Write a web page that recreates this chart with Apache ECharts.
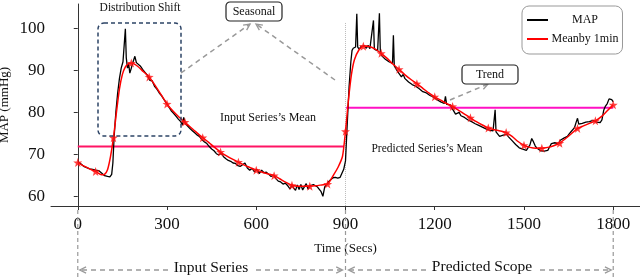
<!DOCTYPE html>
<html><head><meta charset="utf-8">
<script src="https://cdn.jsdelivr.net/npm/echarts@6/dist/echarts.min.js"></script>
<style>html,body{margin:0;padding:0;background:#fff}#c{width:640px;height:280px}</style>
</head><body><div id="c"></div>
<script>
// ---- data ----
const xTicks = [0, 300, 600, 900, 1200, 1500, 1800];
const yTicks = [60, 70, 80, 90, 100];

const blackT = [0,10,20,30,40,50,60,70,80,90,100,108,114,118,122,128,134,140,146,152,157,160,163,167,171,175,180,186,192,197,203,210,218,226,234,242,250,258,266,274,282,290,298,306,314,322,330,338,346,352,356,362,370,378,386,394,402,410,418,426,434,442,450,458,466,474,482,490,498,506,514,522,530,538,546,554,562,570,578,586,594,602,610,618,626,634,642,650,658,666,674,682,690,698,706,714,720,726,732,738,744,750,756,762,768,774,780,786,792,798,806,812,818,824,830,836,842,850,858,866,874,882,888,894,900,905,912,918,922,926,930,934,938,941,946,952,958,964,970,976,982,988,994,997,1002,1008,1014,1017,1022,1028,1034,1040,1046,1052,1058,1061,1064,1070,1076,1082,1088,1094,1100,1106,1112,1118,1124,1130,1136,1142,1148,1154,1160,1166,1172,1178,1184,1190,1196,1202,1208,1214,1220,1226,1232,1236,1240,1246,1252,1258,1264,1270,1276,1282,1288,1294,1300,1306,1312,1318,1324,1330,1336,1342,1348,1354,1360,1366,1372,1378,1384,1390,1396,1400,1403,1406,1412,1418,1424,1430,1436,1442,1448,1454,1460,1466,1472,1478,1484,1490,1496,1502,1508,1514,1520,1526,1532,1538,1544,1550,1556,1562,1568,1574,1580,1586,1592,1598,1604,1610,1616,1622,1628,1634,1640,1646,1652,1658,1664,1670,1676,1680,1684,1690,1696,1702,1708,1714,1720,1726,1732,1738,1744,1750,1756,1762,1768,1774,1780,1786,1790,1795,1800];
const blackV = [68.3,67.8,67.2,66.9,66.6,66.5,66.3,66.2,65.6,65.0,64.8,64.7,65.3,68,74,80,84.5,88,90.5,92.0,92.3,99.8,93,90.5,91.5,89.3,90.5,92.0,93.3,91.8,91.5,91.0,90.2,89.5,88.8,87.6,87.5,86.2,85.5,84.6,83.9,83.0,82.2,81.3,80.4,79.8,79.1,78.4,77.8,77.0,78.8,77.3,76.7,76.1,75.6,75.1,74.6,74.2,73.5,73.0,72.6,71.9,71.3,70.9,70.2,69.9,70.3,69.5,69.0,68.6,68.4,68.0,67.9,67.4,67.2,67.6,68.0,66.8,66.3,66.7,65.9,66.5,65.5,66.3,65.7,65.8,65.3,64.8,65.1,64.3,63.7,63.5,63.0,63.2,62.6,61.8,62.9,62.0,61.5,62.8,61.7,62.9,61.6,62.4,63.1,61.8,62.6,62.2,62.9,62.5,62.3,62.0,61.2,60.1,62.3,62.8,63.5,64.0,64.5,64.6,64.4,64.6,64.9,66.5,68.5,76,86,92,94.7,95.2,94.8,95.5,103.4,95.5,95.0,95.6,95.4,95.8,95.2,95.9,95.1,95.4,101.8,95.0,95.4,94.6,103.5,94.5,93.4,93.8,92.6,92.9,92.0,91.8,91.6,98.3,91.0,90.6,89.6,89.2,88.4,89.0,88.0,87.9,87.2,87.6,86.6,86.9,86.2,86.5,85.6,85.9,84.9,85.3,84.6,84.8,84.0,84.4,83.6,83.7,83.0,83.3,82.5,82.6,82.1,83.8,81.9,81.6,81.8,81.0,80.7,79.6,79.9,80.0,79.2,79.4,78.8,79.0,78.2,78.5,77.8,77.9,77.3,77.4,76.9,77.1,76.5,76.7,76.1,76.3,75.8,76.0,75.6,76.0,80.6,75.4,75.0,74.3,73.9,74.6,75.0,74.8,74.2,73.9,73.3,72.9,72.4,72.0,71.6,71.9,71.3,71.6,71.0,71.4,72.3,73.8,73.0,72.0,71.5,71.2,70.9,71.3,70.8,70.5,71.0,71.8,72.6,72.3,72.8,73.2,72.6,73.4,73.2,73.9,73.5,74.3,74.9,75.4,75.8,76.4,77.8,78.6,77.2,77.0,77.4,77.2,77.7,77.5,77.8,77.6,78.1,77.9,77.7,77.5,77.6,78.2,80.5,81.5,82.1,83.2,83.4,83.0,82.5];

const redT = [0,20,40,60,80,90,100,110,120,130,140,150,160,170,180,200,220,240,260,280,300,320,340,360,380,400,420,440,460,480,500,520,540,560,580,600,620,640,660,680,700,720,740,760,780,800,820,840,860,875,890,900,910,920,930,945,960,980,1000,1020,1040,1060,1080,1100,1120,1140,1160,1180,1200,1220,1240,1260,1280,1300,1320,1340,1360,1380,1400,1420,1440,1460,1480,1500,1520,1540,1560,1580,1600,1620,1640,1660,1680,1700,1720,1740,1760,1780,1800];
const redV = [68.1,67.3,66.6,66.0,65.2,65.3,66.4,69.5,74.0,80.0,85.5,89.0,90.8,91.5,91.7,91.0,89.7,88.4,86.4,84.2,82.0,80.3,78.9,77.7,76.4,75.2,74.0,72.9,71.7,70.6,69.7,68.9,68.2,67.5,66.9,66.3,65.8,65.4,65.0,64.2,63.4,62.7,62.5,62.5,62.5,62.6,62.8,63.0,65.2,67.0,69.6,75.5,83.0,89.0,92.5,94.8,95.7,95.6,95.0,94.0,92.8,91.4,90.2,88.9,87.8,86.8,85.7,84.6,83.7,82.9,82.1,81.4,80.5,79.6,78.7,77.8,77.0,76.3,75.9,75.6,75.2,74.3,73.1,72.2,71.7,71.5,71.5,71.7,72.1,72.7,73.8,75.0,76.2,76.8,77.4,78.0,79.0,80.4,81.8];

const inputMeanT = [0, 895];
const inputMean = 71.9;
const predMeanT = [902, 1800];
const predMean = 81.1;
const splitT = 900;

// ---- chart ----
const SERIF = '"Liberation Serif", "DejaVu Serif", serif';
const chart = echarts.init(document.getElementById('c'));
const zip = (a, b) => a.map((t, i) => [t, b[i]]);
const starData = redT.map((t, i) => [t, redV[i]]).filter(p => p[0] % 60 === 0);
const STAR = 'path://M0,-10L2.35,-3.24L9.51,-3.09L3.8,1.24L5.88,8.09L0,4L-5.88,8.09L-3.8,1.24L-9.51,-3.09L-2.35,-3.24Z';

chart.setOption({
  animation: false,
  grid: { left: 51, right: 0, top: 4, bottom: 74, outerBoundsMode: 'none', containLabel: false },
  xAxis: {
    type: 'value', min: -90, max: 1890,
    axisLine: { show: true, lineStyle: { color: '#333', width: 1 } },
    axisTick: { show: true, length: 4, customValues: xTicks, lineStyle: { color: '#333' } },
    axisLabel: { customValues: xTicks, formatter: v => String(v), fontSize: 17, fontFamily: SERIF, color: '#111', margin: 10 },
    splitLine: { show: false },
    name: 'Time (Secs)', nameLocation: 'middle', nameGap: 36, nameMoveOverlap: false,
    nameTextStyle: { fontSize: 13, fontFamily: SERIF, color: '#111' }
  },
  yAxis: {
    type: 'value', min: 57.8, max: 105.7,
    axisLine: { show: true, lineStyle: { color: '#333', width: 1 } },
    axisTick: { show: true, length: 4, customValues: yTicks, lineStyle: { color: '#333' } },
    axisLabel: { customValues: yTicks, formatter: v => String(v), fontSize: 17, fontFamily: SERIF, color: '#111', margin: 6 },
    splitLine: { show: false },
    name: 'MAP (mmHg)', nameLocation: 'middle', nameGap: 40, nameMoveOverlap: false,
    nameTextStyle: { fontSize: 13, fontFamily: SERIF, color: '#111' }
  },
  legend: {
    data: ['MAP', 'Meanby 1min'], orient: 'vertical', left: 522, top: 6,
    icon: 'rect', itemWidth: 21, itemHeight: 2, itemGap: 5,
    padding: [7, 4, 8, 5], borderColor: '#999', borderWidth: 1, borderRadius: 7,
    formatter: n => '{a|' + n + '}',
    textStyle: { fontFamily: SERIF, fontSize: 12, color: '#111', lineHeight: 14,
      rich: { a: { width: 64, align: 'center', fontFamily: SERIF, fontSize: 12, lineHeight: 14 } } }
  },
  series: [
    { name: 'MAP', type: 'line', data: zip(blackT, blackV), symbol: 'none',
      lineStyle: { color: '#000', width: 1.3 }, itemStyle: { color: '#000' }, z: 2 },
    { name: 'Meanby 1min', type: 'line', data: zip(redT, redV), symbol: 'none', smooth: 0.2,
      lineStyle: { color: '#ff0000', width: 1.5 }, itemStyle: { color: '#ff0000' }, z: 3 },
    { name: 'stars', type: 'scatter', data: starData, symbol: STAR, symbolSize: 9,
      itemStyle: { color: '#ff1010' }, z: 4, silent: true },
    { name: 'inmean', type: 'line', data: inputMeanT.map(t => [t, inputMean]), symbol: 'none',
      lineStyle: { color: '#ff1464', width: 2 }, z: 1 },
    { name: 'predmean', type: 'line', data: predMeanT.map(t => [t, predMean]), symbol: 'none',
      lineStyle: { color: '#ff10c4', width: 2 }, z: 1 },
    { name: 'split', type: 'line', data: [[splitT, 101.2], [splitT, 57.8]], symbol: 'none',
      lineStyle: { color: '#bbb', width: 1, type: 'dotted' }, z: 0 }
  ]
});

// ---- annotations ----
const px = t => chart.convertToPixel({ gridIndex: 0 }, [t, 80])[0];
const GRAY = '#999';
function line(x1, y1, x2, y2, color, dash, w) {
  return { type: 'line', shape: { x1, y1, x2, y2 }, style: { stroke: color, lineWidth: w || 1.5, lineDash: dash || null }, z: 50 };
}
function arrow(x1, y1, x2, y2, color) {
  const a = Math.atan2(y2 - y1, x2 - x1), L = 7, s = 0.45;
  return [
    line(x1, y1, x2, y2, color, [5, 4], 1.5),
    { type: 'polyline', shape: { points: [
      [x2 - L * Math.cos(a - s), y2 - L * Math.sin(a - s)], [x2, y2],
      [x2 - L * Math.cos(a + s), y2 - L * Math.sin(a + s)]] },
      style: { stroke: color, lineWidth: 1.3, fill: null }, z: 50 }
  ];
}
function txt(x, y, s, size) {
  return { type: 'text', x, y, style: { text: s, font: size + 'px ' + SERIF, fill: '#111', align: 'center', verticalAlign: 'middle' }, z: 60 };
}
function box(x, y, w, h, r, stroke, dash, lw) {
  return { type: 'rect', shape: { x, y, width: w, height: h, r }, style: { fill: dash ? null : '#fff', stroke, lineWidth: lw, lineDash: dash || null }, z: 55 };
}
const x0 = px(0), x9 = px(900), x18 = px(1800);
const els = [];
els.push(box(98, 23, 83, 113, 6, '#2d4466', [4, 3], 1.5));
els.push(txt(140, 8, 'Distribution Shift', 11.5));
els.push(...arrow(181, 73, 250, 24, GRAY));
els.push(...arrow(335, 80, 256, 24, GRAY));
els.push(box(226, 2, 56, 19, 4, '#222', null, 1.2));
els.push(txt(254, 11.5, 'Seasonal', 12));
els.push(...arrow(450, 100, 488, 84, GRAY));
els.push(box(462, 65, 56, 19, 4, '#222', null, 1.2));
els.push(txt(490, 74.5, 'Trend', 12));
els.push(txt(268, 118, 'Input Series’s Mean', 12));
els.push(txt(427, 149, 'Predicted Series’s Mean', 11.5));
[x0, x9, x18].forEach(x => els.push(line(x, 210, x, 280, GRAY, [4, 3], 1.2)));
els.push(...arrow(168, 270, x0 + 2, 270, GRAY));
els.push(...arrow(256, 270, x9 - 3, 270, GRAY));
els.push(...arrow(426, 270, x9 + 3, 270, GRAY));
els.push(...arrow(540, 270, x18 - 2, 270, GRAY));
els.push(txt(211, 268, 'Input Series', 15.5));
els.push(txt(482, 267, 'Predicted Scope', 15.5));
chart.setOption({ graphic: els });
</script>
</body></html>
